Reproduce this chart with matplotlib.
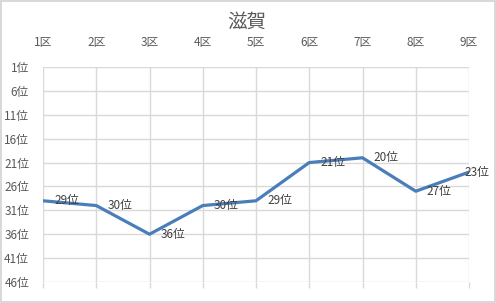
import matplotlib.pyplot as plt

plt.rcParams['font.family'] = ['Noto Sans CJK JP', 'DejaVu Sans']

# data
title = '滋賀'
sections = ['1区', '2区', '3区', '4区', '5区', '6区', '7区', '8区', '9区']
ranks = [29, 30, 36, 30, 29, 21, 20, 27, 23]
ytick_vals = [1, 6, 11, 16, 21, 26, 31, 36, 41, 46]

text_col = '#595959'
grid_col = '#d9d9d9'
line_col = '#4a7ebb'

fig = plt.figure(figsize=(4.96, 3.03), dpi=100)
# light border around the whole chart
fig.patch.set_edgecolor(grid_col)
fig.patch.set_linewidth(1.5)

W, H = 496, 303
ax = fig.add_axes([43 / W, 1 - 282 / H, (469 - 43) / W, (282 - 67) / H])

x = list(range(len(sections)))
ax.plot(x, ranks, color=line_col, lw=2.3, solid_joinstyle='round', zorder=3)

ax.set_xlim(0, len(sections) - 1)
ax.set_ylim(46, 1)
ax.set_yticks(ytick_vals)
ax.set_yticklabels([f'{v}位' for v in ytick_vals])
ax.set_xticks(x)
ax.set_xticklabels(sections)

ax.xaxis.tick_top()
ax.tick_params(axis='x', which='both', top=False, bottom=True, labelbottom=False,
               labeltop=True, length=4, color=grid_col, width=1,
               labelsize=8.5, labelcolor=text_col, pad=9)
ax.tick_params(axis='y', length=0, labelsize=8.5, labelcolor=text_col, pad=10)
ax.grid(True, color=grid_col, lw=1)
ax.set_axisbelow(True)
for s in ax.spines.values():
    s.set_visible(False)

# data labels to the right of each point
for i, r in enumerate(ranks):
    dx = 8
    if i == len(ranks) - 1:
        dx = -3
    ax.annotate(f'{r}位', (i, r), xytext=(dx, 0), textcoords='offset points',
                ha='left', va='center', fontsize=8.5, color='#404040', zorder=4,
                annotation_clip=False)

fig.text(247 / W, 1 - 22 / H, title, ha='center', va='center',
         fontsize=14, color=text_col)

fig.savefig('out.png', dpi=100)
